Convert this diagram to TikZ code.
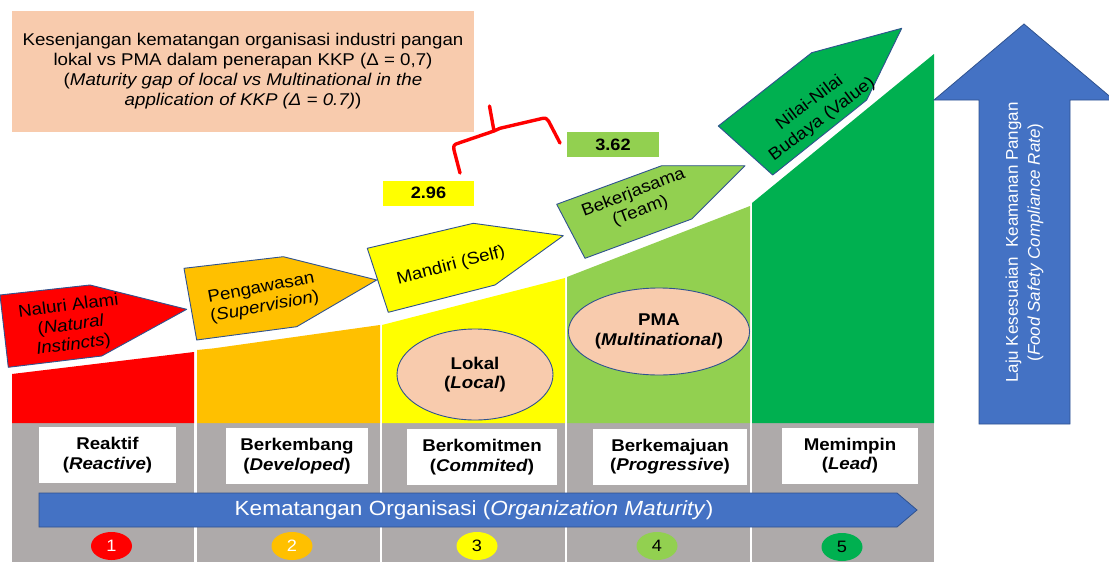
\documentclass[tikz,border=0pt]{standalone}
\usepackage{fontspec}
\setmainfont[FakeStretch=1.1]{Liberation Sans}
\newfontfamily\plainsans{Liberation Sans}
\usetikzlibrary{shapes.geometric}

\definecolor{peach}{HTML}{F8CBAD}
\definecolor{lvred}{HTML}{FF0000}
\definecolor{lvorange}{HTML}{FFC000}
\definecolor{lvyellow}{HTML}{FFFF00}
\definecolor{lvlgreen}{HTML}{92D050}
\definecolor{lvgreen}{HTML}{00B050}
\definecolor{stripgrey}{HTML}{AEAAAA}
\definecolor{axisblue}{HTML}{4472C4}
\definecolor{edgeblue}{HTML}{2F528F}

\begin{document}
\begin{tikzpicture}[x=1pt,y=-1pt,
  txt/.style={font=\fontsize{17}{19.5}\selectfont, align=center, inner sep=0pt},
  levelbox/.style={fill=white, minimum width=#1, minimum height=56pt, inner sep=0pt,
    font=\fontsize{17}{19.5}\selectfont\bfseries, align=center},
  stagearrow/.style={draw=edgeblue, line width=0.9pt, line join=round},
  bubble/.style={ellipse, draw=edgeblue, line width=0.9pt, fill=peach, inner sep=0pt,
    font=\fontsize{17}{19.5}\selectfont\bfseries, align=center},
  numdot/.style={ellipse, minimum width=41pt, minimum height=28pt, inner sep=0pt,
    font=\fontsize{16.5}{18}\selectfont},
  scorebox/.style={minimum width=91pt, minimum height=25pt, inner sep=0pt,
    font=\fontsize{16.5}{18}\selectfont\bfseries}
]
\useasboundingbox (0,0) rectangle (1109,562);

% ---- grey base strip with column dividers ----
\fill[stripgrey] (12,423) rectangle (934,562);
\foreach \a/\b in {194/197, 380/382, 565/567, 750/752}
  \fill[white] (\a,423) rectangle (\b,562);

% ---- rising level columns ----
\fill[lvred]    (12,423) -- (12,374) -- (194,352) -- (194,423) -- cycle;
\fill[lvorange] (197,423) -- (197,350) -- (214,348.3) -- (380,325) -- (380,423) -- cycle;
\fill[lvyellow] (382,423) -- (382,325) -- (565,278) -- (565,423) -- cycle;
\fill[lvlgreen] (567,423) -- (567,277) -- (750,206) -- (750,423) -- cycle;
\fill[lvgreen]  (752,423) -- (752,203) -- (934,54) -- (934,423) -- cycle;

% ---- level name boxes ----
\node[levelbox=137pt] (reaktif) at (107.5,455) {Reaktif\\(\textit{Reactive})};
\node[levelbox=142pt] (berkembang) at (297,456) {Berkembang\\(\textit{Developed})};
\node[levelbox=150pt] (berkomitmen) at (482,457) {Berkomitmen\\(\textit{Commited})};
\node[levelbox=154pt] (berkemajuan) at (670,456.5) {Berkemajuan\\(\textit{Progressive})};
\node[levelbox=136pt] (memimpin) at (850,455.5) {Memimpin\\(\textit{Lead})};

% ---- organisation maturity axis ----
\draw[draw=edgeblue, line width=0.8pt, fill=axisblue]
  (39,493) -- (897,493) -- (917,510) -- (897,527) -- (39,527) -- cycle;
\node[txt, text=white, font=\fontsize{20.5}{22}\selectfont] (maturity) at (474,510)
  {Kematangan Organisasi (\textit{Organization Maturity})};

% ---- numbered stage dots ----
\node[numdot, fill=lvred, text=white] (n1) at (111.5,546) {1};
\node[numdot, fill=lvorange, text=white] (n2) at (292,546) {2};
\node[numdot, fill=lvyellow] (n3) at (477,546) {3};
\node[numdot, fill=lvlgreen] (n4) at (657,546) {4};
\node[numdot, fill=lvgreen] (n5) at (842,547) {5};

% ---- company groups ----
\node[bubble, minimum width=156pt, minimum height=91pt] (lokal) at (475,374.5) {Lokal\\(\textit{Local})};
\node[bubble, minimum width=180pt, minimum height=87pt] (pma) at (659,331.5) {PMA\\(\textit{Multinational})};

% ---- stage arrows ----
\draw[stagearrow, fill=lvred] (0,295) -- (90,285) -- (186.7,309.3) -- (101.7,356) -- (8.3,367.3) -- cycle;
\node[txt, rotate=7.5] (naluri) at (71,326) {Naluri Alami\\(\textit{Natural}\\\textit{Instincts})};

\draw[stagearrow, fill=lvorange] (184,268.3) -- (283.3,256.7) -- (376.7,280) -- (296.7,326.7) -- (196.7,340) -- cycle;
\node[txt, rotate=10.5] (pengawasan) at (263,298) {Pengawasan\\(\textit{Supervision})};

\draw[stagearrow, fill=lvyellow] (367.3,248.3) -- (473.3,223.3) -- (563.3,235.7) -- (495,285) -- (388.3,312.3) -- cycle;
\node[txt, rotate=14.5] (mandiri) at (451,266) {Mandiri (Self)};

\draw[stagearrow, fill=lvlgreen] (556.7,204.3) -- (661.7,165.7) -- (745,165.7) -- (691.7,219) -- (585,258.3) -- cycle;
\node[txt, rotate=21] (bekerjasama) at (637,202) {Bekerjasama\\(Team)};

\draw[stagearrow, fill=lvgreen] (718.3,126) -- (811.7,52.7) -- (901.7,28.3) -- (866.7,100) -- (772.7,175) -- cycle;
\node[txt, rotate=37, font=\fontsize{17}{20.5}\selectfont] (nilai) at (816,111) {Nilai-Nilai\\Budaya (Value)};

% ---- compliance rate arrow ----
\draw[draw=edgeblue, line width=0.8pt, fill=axisblue]
  (979,424) -- (979,100) -- (934,100) -- (1024,24) -- (1114,100) -- (1070,100) -- (1070,424) -- cycle;
\node[inner sep=0pt, align=center, text=white, rotate=90,
  font=\plainsans\fontsize{17}{22}\selectfont] (rate) at (1024.5,242.5)
  {Laju Kesesuaian\ \ Keamanan Pangan\\(\textit{Food Safety Compliance Rate})};

% ---- maturity gap note ----
\node[txt, fill=peach, minimum width=462pt, minimum height=121pt, font=\fontsize{17}{20}\selectfont]
  (gap) at (243,71.5)
  {Kesenjangan kematangan organisasi industri pangan\\
   lokal vs PMA dalam penerapan KKP (Δ = 0,7)\\
   (\textit{Maturity gap of local vs Multinational in the}\\
   \textit{application of KKP (Δ = 0.7)})};

% ---- scores ----
\node[scorebox, fill=lvyellow] (local score) at (428.5,193) {2.96};
\node[scorebox, fill=lvlgreen, minimum width=92pt, minimum height=24.5pt] (pma score) at (613,144.5) {3.62};

% ---- brace spanning the two scores ----
\coordinate (braceL) at (460,173);
\coordinate (braceR) at (560,143);
\coordinate (braceTip) at (489.5,106);
\draw[lvred, line width=3.4pt, line join=round, line cap=round]
  (braceL) -- (454,150) .. controls (453,145.5) and (454.5,144.3) .. (458,143.3)
  -- (494,131) -- (braceTip)
  (494,131) -- (500,128.3) -- (542,118.5) .. controls (545.5,117.7) and (547,118.5) .. (548.5,121)
  -- (braceR);
\end{tikzpicture}
\end{document}
